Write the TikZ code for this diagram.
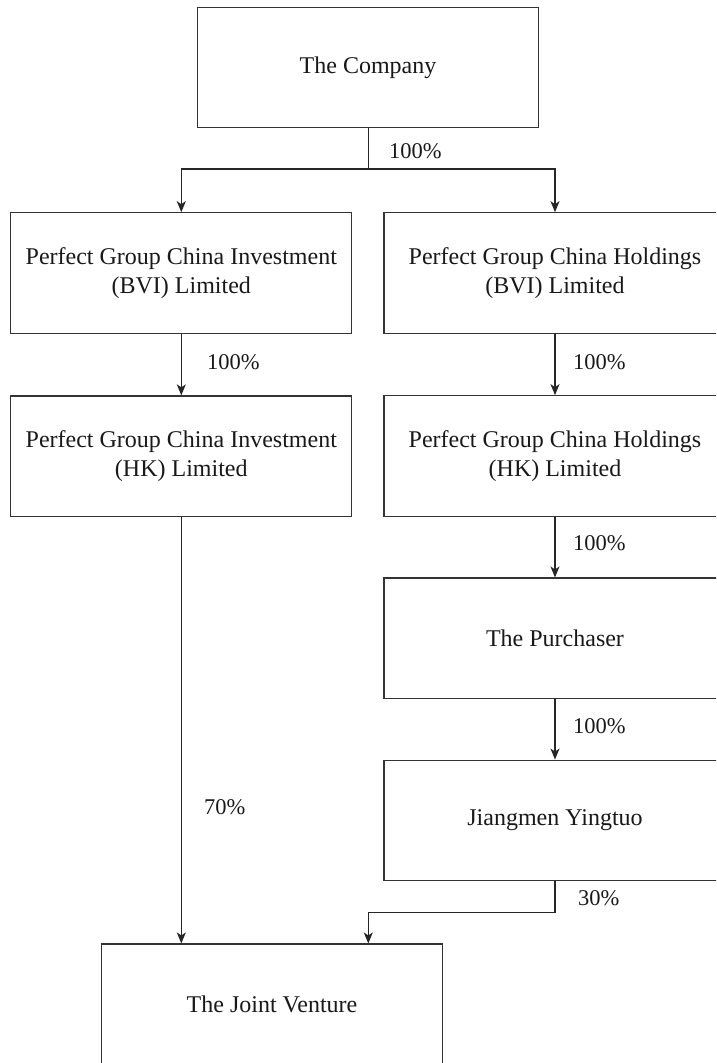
\documentclass[tikz,border=0pt]{standalone}
\usepackage{fontspec}
\setmainfont{Liberation Serif}
\usetikzlibrary{arrows.meta}
\begin{document}
\begin{tikzpicture}[x=1pt,y=-1pt,
  box/.style={draw=black!80,line width=1.2pt,minimum width=341pt,minimum height=120.5pt,inner sep=0pt,align=center,font=\fontsize{24}{28.5}\selectfont,text=black!90},
  lbl/.style={anchor=west,inner sep=0pt,font=\fontsize{22.5}{26}\selectfont,text=black!90},
  conn/.style={draw=black!85,line width=1.2pt},
  arr/.style={conn,-{Stealth[length=11pt,width=9pt,inset=3pt]}}]
\useasboundingbox (0,0) rectangle (716,1063);
\clip (0,0) rectangle (716,1063);
\fill[white] (0,0) rectangle (716,1063);
\node[box] (comp) at (368,67.5) {The Company};
\node[box] (b1L) at (181.3,273) {Perfect Group China Investment\\(BVI) Limited};
\node[box,minimum width=342pt] (b1R) at (555,273) {Perfect Group China Holdings\\(BVI) Limited};
\node[box] (b2L) at (181.3,456.2) {Perfect Group China Investment\\(HK) Limited};
\node[box,minimum width=342pt] (b2R) at (555,456) {Perfect Group China Holdings\\(HK) Limited};
\node[box,minimum width=342pt] (pur) at (555,638.3) {The Purchaser};
\node[box,minimum width=342pt] (jm) at (555,820.4) {Jiangmen Yingtuo};
\node[box,minimum width=341pt] (jv) at (272,1004.3) {The Joint Venture};
\coordinate (j1) at (368.5,169);
\coordinate (j2) at (555,912.7);
\draw[conn] (comp.south -| j1) -- (j1);
\draw[arr] (j1) -| (b1L.north);
\draw[arr] (j1) -| (b1R.north);
\draw[arr] (b1L.south) -- (b2L.north);
\draw[arr] (b1R.south) -- (b2R.north);
\draw[arr] (b2R.south) -- (pur.north);
\draw[arr] (pur.south) -- (jm.north);
\draw[arr] (b2L.south) -- (b2L.south |- jv.north);
\draw[conn] (jm.south) -- (j2);
\draw[arr] (j2) -| ([xshift=96.3pt]jv.north);
\node[lbl] (l1) at (389,151) {100\%};
\node[lbl] (l2) at (207,361.7) {100\%};
\node[lbl] (l3) at (573,361.7) {100\%};
\node[lbl] (l4) at (573,543) {100\%};
\node[lbl] (l5) at (573,726) {100\%};
\node[lbl] (l6) at (204,806.7) {70\%};
\node[lbl] (l7) at (578,898) {30\%};
\end{tikzpicture}
\end{document}
